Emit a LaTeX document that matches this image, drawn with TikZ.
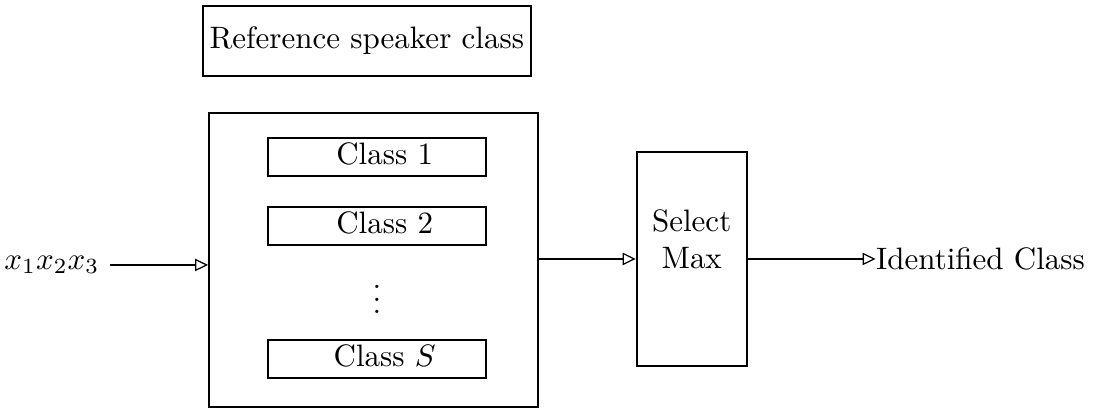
\documentclass[tikz,border=0pt]{standalone}
\usetikzlibrary{arrows.meta,positioning}
\begin{document}
\begin{tikzpicture}[
    block/.style={draw, line width=0.6pt, inner sep=0pt},
    classbox/.style={block, minimum width=2.47cm, minimum height=0.43cm, text depth=2pt},
    link/.style={-{Triangle[open, length=4.2pt, width=4pt]}, line width=0.4pt}
]
\useasboundingbox (0,0) rectangle (12.43,-4.63);
\node[block, minimum width=3.72cm, minimum height=0.79cm] (ref) at (4.16,-0.465) {Reference speaker class};
\node[block, minimum width=3.73cm, minimum height=3.34cm, anchor=north] (bank) at (4.235,-1.27) {};
\node[classbox] (c1) at (4.275,-1.78) {\hspace*{5pt}Class 1};
\node[classbox] (c2) at (4.275,-2.563) {\hspace*{5pt}Class 2};
\node (dots) at (4.275,-3.29) {$\vdots$};
\node[classbox] (cS) at (4.275,-4.07) {\hspace*{5pt}Class $S$};
\node[anchor=east] (in) at (1.25,-3.005) {$x_1x_2x_3$};
\node[block, minimum width=1.25cm, minimum height=2.43cm] (sel) at (7.845,-2.937) {};
\node[align=center] (seltext) at (7.845,-2.71) {Select\\Max};
\node[anchor=west, inner sep=0pt] (out) at (9.93,-2.937) {Identified Class};
\draw[link] (in) -- (in -| bank.west);
\draw[link] (bank.east |- sel) -- (sel);
\draw[link] (sel) -- (out);
\end{tikzpicture}
\end{document}
